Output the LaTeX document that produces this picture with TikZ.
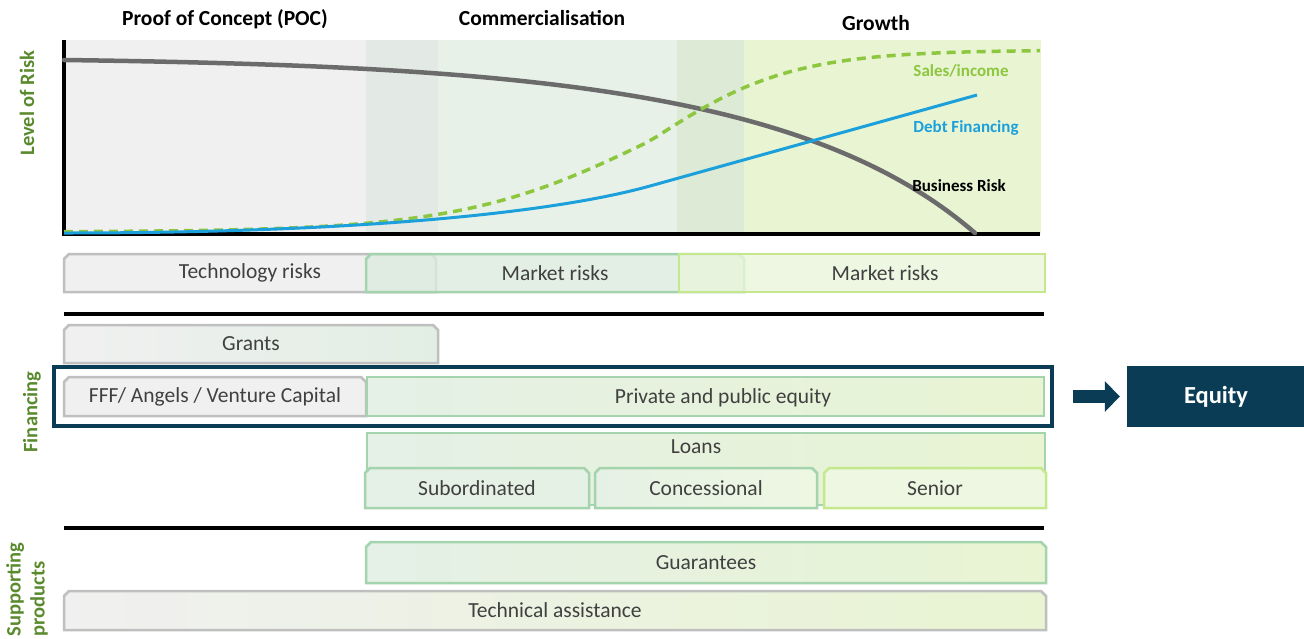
\documentclass[tikz,border=0pt]{standalone}
\usepackage{fontspec}
\setmainfont{Carlito}
\usetikzlibrary{shapes.misc,arrows.meta}

\definecolor{navy}{HTML}{0B3C55}
\definecolor{txtgray}{HTML}{404040}
\definecolor{olive}{HTML}{5A8A2E}
\definecolor{gbord}{HTML}{BFBFBF}
\definecolor{gfill}{HTML}{F0F0F0}
\definecolor{mbord}{HTML}{A3D4AE}
\definecolor{mfill}{HTML}{E5F0E7}
\definecolor{mtint}{HTML}{DCEBDF}
\definecolor{lbord}{HTML}{C5E88C}
\definecolor{lfill}{HTML}{EEF7E2}
\definecolor{ltint}{HTML}{E9F5DB}
\definecolor{lend}{HTML}{E8F4D2}
\definecolor{salesgreen}{HTML}{8DC63F}
\definecolor{debtblue}{HTML}{1BA0DC}
\definecolor{riskgray}{HTML}{6B6B6B}

\begin{document}
\begin{tikzpicture}[x=1pt,y=-1pt,
  every node/.style={font=\fontsize{21.5}{24}\selectfont, text=txtgray},
  phase/.style={font=\fontsize{21.5}{24}\selectfont\bfseries, text=black, anchor=base},
  side/.style={font=\fontsize{20.5}{24}\selectfont\bfseries, text=olive, rotate=90},
  curvelbl/.style={font=\fontsize{17}{20}\selectfont\bfseries},
  bar/.style={chamfered rectangle, chamfered rectangle corners={north west,north east},
    chamfered rectangle sep=2.5pt, line width=2.5pt, inner sep=0pt},
  graybar/.style={bar, draw=gbord, left color=gfill, right color=gfill},
  greenbar/.style={bar, draw=mbord, left color=mfill, right color=lfill},
  limebar/.style={bar, draw=lbord, left color=lfill, right color=lfill},
  sepline/.style={line width=3.5pt, black}]
\useasboundingbox (0,0) rectangle (1304,638);

% phases
\node[phase] (poc) at (225,25) {Proof of Concept (POC)};
\node[phase] (comm) at (542,25) {Commercialisation};
\node[phase] (growth) at (876,30) {Growth};

% chart background
\fill[gfill] (64,40) rectangle (366,234);
\fill[fill={rgb,255:red,227;green,233;blue,229}] (366,40) rectangle (438,234);
\fill[fill={rgb,255:red,231;green,241;blue,232}] (438,40) rectangle (677,234);
\fill[fill={rgb,255:red,220;green,234;blue,214}] (677,40) rectangle (744,234);
\fill[fill=lend] (744,40) rectangle (1041,234);

% axes
\draw[line width=3.5pt, black] (64,40) -- (64,234) -- (1040,234);

% curves
\draw[riskgray, line width=4.5pt, line cap=round] (64,60) .. controls (520,66) and (810,90) .. (975,233);
\draw[salesgreen, line width=3.5pt, dash pattern=on 9pt off 6pt] plot[domain=64:1040, samples=90]
  (\x, {232-182/(1+exp(-(\x-650)/((\x<650)*95+(\x>=650)*70)))});
\draw[debtblue, line width=3pt] (64,233) .. controls (350,233) and (550,213.8) .. (650,186) -- (977,95);

\node[curvelbl, text=salesgreen] (saleslbl) at (961,71) {Sales/income};
\node[curvelbl, text=debtblue] (debtlbl) at (966,128) {Debt Financing};
\node[curvelbl, text=black] (risklbl) at (959,186) {Business Risk};

% side labels
\node[side] (levelrisk) at (27,103) {Level of Risk};
\node[side] (financing) at (32,412) {Financing};
\node[side, anchor=west, align=left] (supporting) at (27,640) {Supporting\\products};

% risks
\node[graybar, minimum width=372, minimum height=38] (techrisk) at (250,273) {Technology risks};
\node[greenbar, left color=mtint, right color=mtint, fill opacity=0.8, text opacity=1, minimum width=378, minimum height=38] (mrisk) at (555,273) {Market risks};
\node[limebar, left color=ltint, right color=ltint, fill opacity=0.8, minimum width=366, minimum height=38] (mrisk2) at (862,273) {};
\node (mrisk2txt) at (885,273) {Market risks};

\draw[sepline] (64,314) -- (1044,314);

% financing
\node[graybar, right color={rgb,255:red,226;green,238;blue,228}, minimum width=374, minimum height=38] (grants) at (251,344) {Grants};
\node[draw=navy, line width=3.5pt, minimum width=998, minimum height=59, inner sep=0pt] (eqframe) at (553,396.5) {};
\node[graybar, minimum width=302, minimum height=39] (fff) at (215,396.5) {FFF/ Angels / Venture Capital};
\node[greenbar, right color=lend, minimum width=677, minimum height=39] (pequity) at (705.5,396.5) {};
\node (pequitytxt) at (723,398) {Private and public equity};

\node[greenbar, right color=lend, minimum width=678, minimum height=72] (loans) at (706,469) {};
\node (loanstxt) at (696,447) {Loans};
\node[greenbar, right color={rgb,255:red,230;green,241;blue,229}, minimum width=224, minimum height=40] (subord) at (477,488) {Subordinated};
\node[greenbar, left color={rgb,255:red,230;green,241;blue,229}, minimum width=222, minimum height=40] (concess) at (706,488) {Concessional};
\node[limebar, minimum width=222, minimum height=40] (senior) at (935,488) {Senior};

\node[fill=navy, minimum width=178, minimum height=61, text=white, font=\fontsize{24.5}{28}\selectfont\bfseries] (equity) at (1216,396.5) {Equity};
\draw[navy, line width=13pt, -{Triangle[length=15pt, width=30pt]}] ([xshift=19pt]eqframe.east) -- ([xshift=-7pt]equity.west);

\draw[sepline] (64,528) -- (1044,528);

% supporting products
\node[greenbar, right color=lend, minimum width=680, minimum height=41] (guarant) at (706,562.5) {Guarantees};
\node[graybar, right color=lend, minimum width=982, minimum height=39] (techassist) at (555,610.5) {Technical assistance};
\end{tikzpicture}
\end{document}
